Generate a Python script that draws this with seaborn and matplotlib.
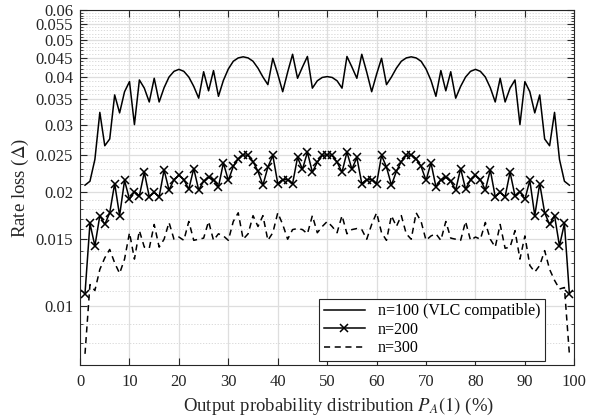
import matplotlib
matplotlib.use("Agg")
import matplotlib.pyplot as plt
import pandas as pd
import seaborn as sns
from matplotlib.ticker import FixedLocator, FixedFormatter, NullFormatter

# Output probability P_A(1) in percent
x_pct = list(range(1, 100))

# Rate loss per block length
loss_n100 = [
    0.0208, 0.0213, 0.0243, 0.0323, 0.0264, 0.0275, 0.0359, 0.0322, 0.0366, 0.0389,
    0.0300, 0.0393, 0.0374, 0.0344, 0.0397, 0.0344, 0.0375, 0.0400, 0.0414, 0.0419,
    0.0414, 0.0400, 0.0378, 0.0352, 0.0413, 0.0368, 0.0416, 0.0356, 0.0392, 0.0420,
    0.0440, 0.0449, 0.0452, 0.0449, 0.0440, 0.0422, 0.0400, 0.0382, 0.0448, 0.0407,
    0.0366, 0.0412, 0.0459, 0.0397, 0.0425, 0.0453, 0.0374, 0.0391, 0.0399, 0.0401,
    0.0399, 0.0391, 0.0374, 0.0453, 0.0425, 0.0397, 0.0459, 0.0412, 0.0366, 0.0407,
    0.0448, 0.0382, 0.0400, 0.0422, 0.0440, 0.0449, 0.0452, 0.0449, 0.0440, 0.0420,
    0.0392, 0.0356, 0.0416, 0.0368, 0.0413, 0.0352, 0.0378, 0.0400, 0.0414, 0.0419,
    0.0414, 0.0400, 0.0375, 0.0344, 0.0397, 0.0344, 0.0374, 0.0393, 0.0300, 0.0389,
    0.0366, 0.0322, 0.0359, 0.0275, 0.0264, 0.0323, 0.0243, 0.0213, 0.0208,
]
loss_n200 = [
    0.0108, 0.0165, 0.0144, 0.0173, 0.0164, 0.0176, 0.0210, 0.0173, 0.0214, 0.0191,
    0.0200, 0.0195, 0.0225, 0.0194, 0.0199, 0.0194, 0.0228, 0.0202, 0.0215, 0.0221,
    0.0215, 0.0203, 0.0230, 0.0202, 0.0213, 0.0218, 0.0215, 0.0206, 0.0238, 0.0214,
    0.0233, 0.0244, 0.0250, 0.0249, 0.0240, 0.0226, 0.0208, 0.0232, 0.0249, 0.0210,
    0.0215, 0.0215, 0.0210, 0.0246, 0.0229, 0.0254, 0.0225, 0.0239, 0.0249, 0.0250,
    0.0249, 0.0239, 0.0225, 0.0254, 0.0229, 0.0246, 0.0210, 0.0215, 0.0215, 0.0210,
    0.0249, 0.0232, 0.0208, 0.0226, 0.0240, 0.0249, 0.0250, 0.0244, 0.0233, 0.0214,
    0.0238, 0.0206, 0.0215, 0.0218, 0.0213, 0.0202, 0.0230, 0.0203, 0.0215, 0.0221,
    0.0215, 0.0202, 0.0228, 0.0194, 0.0199, 0.0194, 0.0225, 0.0195, 0.0200, 0.0191,
    0.0214, 0.0173, 0.0210, 0.0176, 0.0164, 0.0173, 0.0144, 0.0165, 0.0108,
]
loss_n300 = [
    0.0075, 0.0114, 0.0110, 0.0125, 0.0134, 0.0141, 0.0130, 0.0122, 0.0133, 0.0156,
    0.0133, 0.0158, 0.0143, 0.0142, 0.0164, 0.0143, 0.0150, 0.0166, 0.0150, 0.0152,
    0.0149, 0.0167, 0.0149, 0.0150, 0.0151, 0.0167, 0.0149, 0.0155, 0.0153, 0.0149,
    0.0167, 0.0176, 0.0150, 0.0155, 0.0173, 0.0162, 0.0173, 0.0149, 0.0156, 0.0176,
    0.0164, 0.0150, 0.0159, 0.0160, 0.0159, 0.0155, 0.0173, 0.0156, 0.0162, 0.0167,
    0.0162, 0.0156, 0.0173, 0.0155, 0.0159, 0.0160, 0.0159, 0.0150, 0.0164, 0.0176,
    0.0156, 0.0149, 0.0173, 0.0162, 0.0173, 0.0155, 0.0150, 0.0176, 0.0167, 0.0149,
    0.0153, 0.0155, 0.0149, 0.0167, 0.0151, 0.0150, 0.0149, 0.0167, 0.0149, 0.0152,
    0.0150, 0.0166, 0.0150, 0.0143, 0.0164, 0.0142, 0.0143, 0.0158, 0.0133, 0.0153,
    0.0128, 0.0123, 0.0128, 0.0140, 0.0125, 0.0117, 0.0111, 0.0112, 0.0075,
]

series_labels = ["n=100 (VLC compatible)", "n=200", "n=300"]

y_major = [0.01, 0.015, 0.02, 0.025, 0.03, 0.035, 0.04, 0.045, 0.05, 0.055, 0.06]
y_major_labels = ["0.01", "0.015", "0.02", "0.025", "0.03", "0.035",
                  "0.04", "0.045", "0.05", "0.055", "0.06"]

plt.rcParams["font.family"] = ["Liberation Serif", "DejaVu Serif"]
plt.rcParams["mathtext.fontset"] = "stix"

fig = plt.figure(figsize=(6.02, 4.16), dpi=100)
ax = fig.add_axes([0.133, 0.122, 0.821, 0.854])

df1 = pd.DataFrame({"x": x_pct, "y": loss_n100})
df2 = pd.DataFrame({"x": x_pct, "y": loss_n200})
df3 = pd.DataFrame({"x": x_pct, "y": loss_n300})

sns.lineplot(data=df1, x="x", y="y", ax=ax, color="black", lw=1.1,
             label=series_labels[0])
sns.lineplot(data=df2, x="x", y="y", ax=ax, color="black", lw=1.1,
             marker="x", markersize=5.5, markeredgewidth=1.1, markeredgecolor="black",
             label=series_labels[1])
sns.lineplot(data=df3, x="x", y="y", ax=ax, color="black", lw=1.1,
             linestyle=(0, (4, 3)), label=series_labels[2])

ax.set_yscale("log")
ax.set_xlim(0, 100)
ax.set_ylim(0.007, 0.06)

ax.xaxis.set_major_locator(FixedLocator(list(range(0, 101, 10))))
ax.yaxis.set_major_locator(FixedLocator(y_major))
ax.yaxis.set_major_formatter(FixedFormatter(y_major_labels))
minor = [m / 1000 for m in range(7, 61) if m % 5 != 0]
ax.yaxis.set_minor_locator(FixedLocator(minor))
ax.yaxis.set_minor_formatter(NullFormatter())
ax.xaxis.set_minor_locator(FixedLocator([]))

ax.grid(which="major", color="#dedede", lw=0.9)
ax.yaxis.grid(which="minor", color="#d4d4d4", lw=0.6, ls=(0, (1.5, 2)))
ax.set_axisbelow(True)

ax.tick_params(which="both", direction="in", top=True, right=True,
               labelsize=12, colors="#262626")
ax.tick_params(axis="y", which="major", pad=5)
ax.tick_params(axis="x", which="major", pad=6)
ax.tick_params(which="major", length=5, width=0.8)
ax.tick_params(which="minor", length=2.5, width=0.6)
for s in ax.spines.values():
    s.set_color("#262626")
    s.set_linewidth(0.8)

ax.set_xlabel("Output probability distribution $P_A(1)$ (%)", fontsize=13.5,
              labelpad=2, color="#262626")
ax.xaxis.set_label_coords(0.522, -0.085)
ax.set_ylabel("Rate loss ($\\Delta$)", fontsize=13.5, labelpad=3, color="#262626")

leg = ax.legend(loc="lower right", bbox_to_anchor=(0.941, 0.012), fontsize=11.5,
                frameon=True, fancybox=False, framealpha=1, edgecolor="#262626",
                borderpad=0.3, handlelength=2.6, labelspacing=0.15,
                borderaxespad=0)
leg.get_frame().set_linewidth(0.8)

fig.savefig("out.png", dpi=100)
